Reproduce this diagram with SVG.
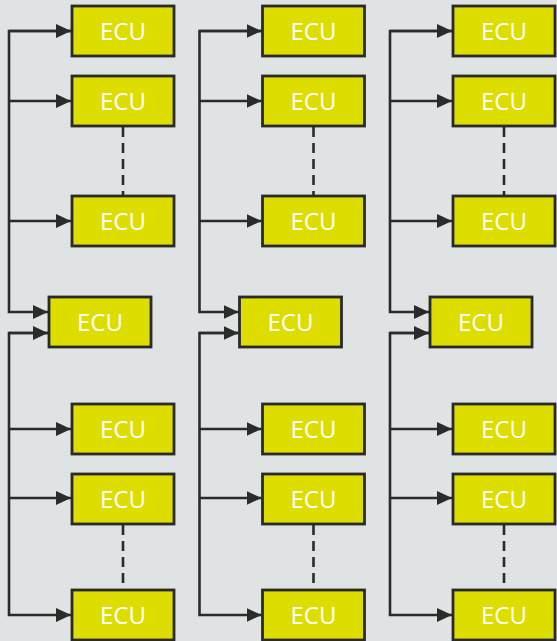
<svg xmlns="http://www.w3.org/2000/svg" width="557" height="641" viewBox="0 0 557 641">
  <style>
    .box { fill: #dedd00; stroke: #2a2a2a; stroke-width: 2.8; }
    .lbl { font-family: "Open Sans", "Noto Sans", sans-serif; font-size: 24px; fill: #ffffff; text-anchor: middle; }
    .wire { fill: none; stroke: #2b2b2b; stroke-width: 2.6; }
    .dash { fill: none; stroke: #2b2b2b; stroke-width: 2.6; stroke-dasharray: 10 6; }
  </style>
  <defs>
    <marker id="arrow" markerUnits="userSpaceOnUse" markerWidth="16" markerHeight="15" refX="15" refY="7" orient="auto">
      <path d="M0,0 L15,7 L0,14 z" fill="#2b2b2b"/>
    </marker>
    <!-- one bus column: upper chain feeding the gateway, lower chain fed from it -->
    <g id="busWires">
      <path class="wire" d="M71,31 H9 V312 H48" marker-end="url(#arrow)"/>
      <path class="wire" d="M9,31 H71" marker-end="url(#arrow)"/>
      <path class="wire" d="M9,101 H71" marker-end="url(#arrow)"/>
      <path class="wire" d="M9,221 H71" marker-end="url(#arrow)"/>
      <path class="wire" d="M48,333 H9 V615 H71" marker-end="url(#arrow)"/>
      <path class="wire" d="M9,333 H48" marker-end="url(#arrow)"/>
      <path class="wire" d="M9,429 H71" marker-end="url(#arrow)"/>
      <path class="wire" d="M9,498 H71" marker-end="url(#arrow)"/>
      <path class="dash" d="M123,127 V196"/>
      <path class="dash" d="M123,525 V590"/>
    </g>
  </defs>

  <rect x="0" y="0" width="557" height="641" fill="#dfe3e3"/>

  <g id="connectors">
    <use href="#busWires" transform="translate(0,0)"/>
    <use href="#busWires" transform="translate(190.5,0)"/>
    <use href="#busWires" transform="translate(381,0)"/>
  </g>

  <!-- column 1 -->
  <g id="col1" transform="translate(0,0)">
    <g id="c1-ecu1"><rect class="box" x="72" y="6" width="102" height="50"/><text class="lbl" x="123" y="40">ECU</text></g>
    <g id="c1-ecu2"><rect class="box" x="72" y="76" width="102" height="50"/><text class="lbl" x="123" y="110">ECU</text></g>
    <g id="c1-ecu3"><rect class="box" x="72" y="196" width="102" height="50"/><text class="lbl" x="123" y="230">ECU</text></g>
    <g id="c1-gateway"><rect class="box" x="49" y="297" width="102" height="50"/><text class="lbl" x="100" y="331">ECU</text></g>
    <g id="c1-ecu4"><rect class="box" x="72" y="404" width="102" height="50"/><text class="lbl" x="123" y="438">ECU</text></g>
    <g id="c1-ecu5"><rect class="box" x="72" y="474" width="102" height="50"/><text class="lbl" x="123" y="508">ECU</text></g>
    <g id="c1-ecu6"><rect class="box" x="72" y="590" width="102" height="50"/><text class="lbl" x="123" y="624">ECU</text></g>
  </g>

  <!-- column 2 -->
  <g id="col2" transform="translate(190.5,0)">
    <g id="c2-ecu1"><rect class="box" x="72" y="6" width="102" height="50"/><text class="lbl" x="123" y="40">ECU</text></g>
    <g id="c2-ecu2"><rect class="box" x="72" y="76" width="102" height="50"/><text class="lbl" x="123" y="110">ECU</text></g>
    <g id="c2-ecu3"><rect class="box" x="72" y="196" width="102" height="50"/><text class="lbl" x="123" y="230">ECU</text></g>
    <g id="c2-gateway"><rect class="box" x="49" y="297" width="102" height="50"/><text class="lbl" x="100" y="331">ECU</text></g>
    <g id="c2-ecu4"><rect class="box" x="72" y="404" width="102" height="50"/><text class="lbl" x="123" y="438">ECU</text></g>
    <g id="c2-ecu5"><rect class="box" x="72" y="474" width="102" height="50"/><text class="lbl" x="123" y="508">ECU</text></g>
    <g id="c2-ecu6"><rect class="box" x="72" y="590" width="102" height="50"/><text class="lbl" x="123" y="624">ECU</text></g>
  </g>

  <!-- column 3 -->
  <g id="col3" transform="translate(381,0)">
    <g id="c3-ecu1"><rect class="box" x="72" y="6" width="102" height="50"/><text class="lbl" x="123" y="40">ECU</text></g>
    <g id="c3-ecu2"><rect class="box" x="72" y="76" width="102" height="50"/><text class="lbl" x="123" y="110">ECU</text></g>
    <g id="c3-ecu3"><rect class="box" x="72" y="196" width="102" height="50"/><text class="lbl" x="123" y="230">ECU</text></g>
    <g id="c3-gateway"><rect class="box" x="49" y="297" width="102" height="50"/><text class="lbl" x="100" y="331">ECU</text></g>
    <g id="c3-ecu4"><rect class="box" x="72" y="404" width="102" height="50"/><text class="lbl" x="123" y="438">ECU</text></g>
    <g id="c3-ecu5"><rect class="box" x="72" y="474" width="102" height="50"/><text class="lbl" x="123" y="508">ECU</text></g>
    <g id="c3-ecu6"><rect class="box" x="72" y="590" width="102" height="50"/><text class="lbl" x="123" y="624">ECU</text></g>
  </g>
</svg>
